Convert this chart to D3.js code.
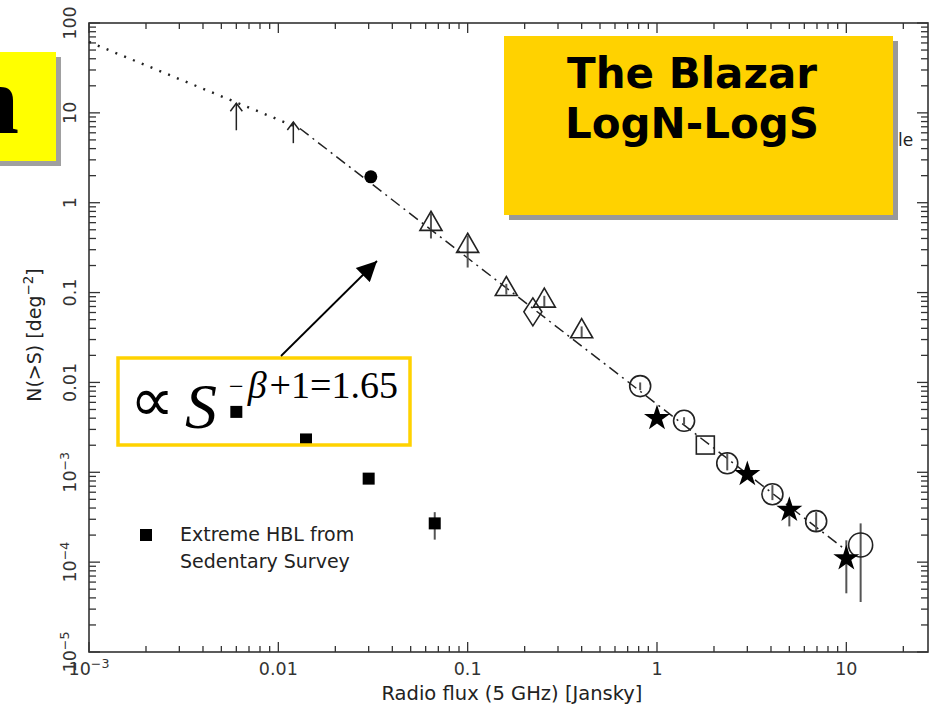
<!DOCTYPE html>
<html>
<head>
<meta charset="utf-8">
<script src="https://cdn.jsdelivr.net/npm/d3@7"></script>
<style>
  body { margin: 0; background: #fff; }
  svg { display: block; }
</style>
</head>
<body>
<div id="chart"></div>
<script>
// values: S = radio flux [Jy], N = N(>S) [deg^-2]
const dottedS = [0.001, 0.013];
const dottedN = [61.5, 6.7];
const modelS = [0.013, 10];
const modelN = [6.7, 1.35e-4];

const limitS = [0.006, 0.012];
const limitBase = [6.4, 4.6];
const limitTip = [12.8, 7.9];

const dotS = [0.0308];
const dotN = [1.94];

const triS  = [0.064, 0.10, 0.16, 0.254, 0.40];
const triN  = [0.58, 0.33, 0.109, 0.081, 0.037];
const triLo = [0.40, 0.19, 0.095, 0.070, 0.032];
const triHi = [0.76, 0.43, 0.125, 0.092, 0.042];

const diaS = [0.221];
const diaN = [0.061];

const circS  = [0.815, 1.39, 2.35, 4.07, 6.93, 11.9];
const circN  = [0.0091, 0.00374, 0.00126, 5.7e-4, 2.86e-4, 1.55e-4];
const circLo = [0.0082, 0.0034, 1.05e-3, 4.9e-4, 2.17e-4, 3.6e-5];
const circHi = [0.0100, 0.0041, 1.63e-3, 7.2e-4, 3.6e-4, 2.7e-4];

const boxS = [1.8];
const boxN = [0.00201];

const starS  = [1, 3, 5, 10];
const starN  = [0.0040, 9.5e-4, 3.8e-4, 1.1e-4];
const starLo = [0.0040, 9.5e-4, 2.5e-4, 4.5e-5];
const starHi = [0.0040, 9.5e-4, 4.3e-4, 1.75e-4];

const hblS  = [0.006, 0.014, 0.030, 0.067];
const hblN  = [0.0047, 0.00232, 8.5e-4, 2.7e-4];
const hblLo = [0.0047, 0.00232, 8.5e-4, 1.78e-4];
const hblHi = [0.0047, 0.00232, 8.5e-4, 3.6e-4];

const xTicks = [1e-3, 0.01, 0.1, 1, 10];
const xTickLabels = [["10", "\u22123"], ["0.01"], ["0.1"], ["1"], ["10"]];
const yTicks = [1e-5, 1e-4, 1e-3, 0.01, 0.1, 1, 10, 100];
const yTickLabels = [["10", "\u22125"], ["10", "\u22124"], ["10", "\u22123"], ["0.01"], ["0.1"], ["1"], ["10"], ["100"]];

const W = 934, H = 707;
const mLeft = 89, mRight = 928, mTop = 23, mBottom = 652;
const ink = "#222", axisCol = "#333";
const tickFont = "'DejaVu Sans', sans-serif";

const svg = d3.select("#chart").append("svg")
  .attr("width", W).attr("height", H)
  .attr("viewBox", [0, 0, W, H]);

const x = d3.scaleLog().domain([1e-3, 27]).range([mLeft, mRight]);
const y = d3.scaleLog().domain([1e-5, 100]).range([mBottom, mTop]);

const isMajor = v => Math.abs(Math.log10(v) - Math.round(Math.log10(v))) < 1e-6;

// frame
svg.append("rect")
  .attr("x", mLeft).attr("y", mTop)
  .attr("width", mRight - mLeft).attr("height", mBottom - mTop)
  .attr("fill", "none").attr("stroke", axisCol).attr("stroke-width", 1.6);

// ticks on all four sides, pointing inward
const ax = svg.append("g").attr("stroke", axisCol).attr("stroke-width", 1.3);
x.ticks().forEach(v => {
  const L = isMajor(v) ? 10 : 6;
  ax.append("line").attr("x1", x(v)).attr("x2", x(v)).attr("y1", mBottom).attr("y2", mBottom - L);
  ax.append("line").attr("x1", x(v)).attr("x2", x(v)).attr("y1", mTop).attr("y2", mTop + L);
});
y.ticks().forEach(v => {
  const L = isMajor(v) ? 11 : 7;
  ax.append("line").attr("y1", y(v)).attr("y2", y(v)).attr("x1", mLeft).attr("x2", mLeft + L);
  ax.append("line").attr("y1", y(v)).attr("y2", y(v)).attr("x1", mRight).attr("x2", mRight - L);
});

// tick labels
function label(sel, parts, size) {
  sel.append("tspan").text(parts[0]);
  if (parts[1]) sel.append("tspan").attr("dy", -7).attr("font-size", size * 0.72).text(parts[1]);
}
xTicks.forEach((v, i) => {
  const t = svg.append("text")
    .attr("x", x(v)).attr("y", 675)
    .attr("text-anchor", "middle")
    .attr("font-family", tickFont).attr("font-size", 17.5).attr("fill", "#333");
  label(t, xTickLabels[i], 17.5);
});
yTicks.forEach((v, i) => {
  const t = svg.append("text")
    .attr("transform", `translate(76,${y(v)}) rotate(-90)`)
    .attr("text-anchor", "middle")
    .attr("font-family", tickFont).attr("font-size", 17.5).attr("fill", "#333");
  label(t, yTickLabels[i], 17.5);
});

// axis titles
svg.append("text")
  .attr("x", 512).attr("y", 700)
  .attr("text-anchor", "middle")
  .attr("font-family", tickFont).attr("font-size", 19.5).attr("fill", "#222")
  .text("Radio flux (5 GHz) [Jansky]");
const yt = svg.append("text")
  .attr("transform", "translate(41,335) rotate(-90)")
  .attr("text-anchor", "middle")
  .attr("font-family", tickFont).attr("font-size", 19).attr("fill", "#222");
yt.append("tspan").text("N(>S) [deg");
yt.append("tspan").attr("dy", -8).attr("font-size", 13.5).text("\u22122");
yt.append("tspan").attr("dy", 8).text("]");

// model lines
const line = d3.line().x(d => x(d[0])).y(d => y(d[1]));
svg.append("path")
  .attr("d", line(d3.zip(dottedS, dottedN)))
  .attr("fill", "none").attr("stroke", ink).attr("stroke-width", 2.4)
  .attr("stroke-dasharray", "2 7.5");
svg.append("path")
  .attr("d", line(d3.zip(modelS, modelN)))
  .attr("fill", "none").attr("stroke", ink).attr("stroke-width", 1.5)
  .attr("stroke-dasharray", "11 5 2 5");

// error bars
function errBars(S, lo, hi) {
  S.forEach((s, i) => {
    if (lo[i] === hi[i]) return;
    svg.append("line")
      .attr("x1", x(s)).attr("x2", x(s))
      .attr("y1", y(lo[i])).attr("y2", y(hi[i]))
      .attr("stroke", "#555").attr("stroke-width", 2);
  });
}
errBars(triS, triLo, triHi);
errBars(circS, circLo, circHi);
errBars(starS, starLo, starHi);
errBars(hblS, hblLo, hblHi);

// lower-limit arrows
limitS.forEach((s, i) => {
  const g = svg.append("g").attr("stroke", ink).attr("stroke-width", 1.5).attr("fill", "none");
  const xs = x(s), y0 = y(limitBase[i]), y1 = y(limitTip[i]);
  g.append("line").attr("x1", xs).attr("x2", xs).attr("y1", y0).attr("y2", y1);
  g.append("path").attr("d", `M${xs - 6},${y1 + 8} L${xs},${y1} L${xs + 6},${y1 + 8}`);
});

// markers
const tri = d3.symbol().type(d3.symbolTriangle).size(210);
triS.forEach((s, i) => {
  svg.append("path").attr("d", tri())
    .attr("transform", `translate(${x(s)},${y(triN[i])})`)
    .attr("fill", "none").attr("stroke", ink).attr("stroke-width", 1.6);
});
diaS.forEach((s, i) => {
  const cx = x(s), cy = y(diaN[i]);
  svg.append("path")
    .attr("d", `M${cx},${cy - 14} L${cx + 9},${cy} L${cx},${cy + 14} L${cx - 9},${cy} Z`)
    .attr("fill", "none").attr("stroke", ink).attr("stroke-width", 1.6);
});
circS.forEach((s, i) => {
  svg.append("circle")
    .attr("cx", x(s)).attr("cy", y(circN[i]))
    .attr("r", i === circS.length - 1 ? 12 : 10.5)
    .attr("fill", "none").attr("stroke", ink).attr("stroke-width", 1.6);
});
boxS.forEach((s, i) => {
  svg.append("rect")
    .attr("x", x(s) - 9).attr("y", y(boxN[i]) - 9)
    .attr("width", 18).attr("height", 18)
    .attr("fill", "none").attr("stroke", ink).attr("stroke-width", 1.6);
});
const star = d3.symbol().type(d3.symbolStar).size(210);
starS.forEach((s, i) => {
  svg.append("path").attr("d", star())
    .attr("transform", `translate(${x(s)},${y(starN[i])})`)
    .attr("fill", "#000");
});
dotS.forEach((s, i) => {
  svg.append("circle").attr("cx", x(s)).attr("cy", y(dotN[i])).attr("r", 6.5).attr("fill", "#000");
});
hblS.forEach((s, i) => {
  svg.append("rect")
    .attr("x", x(s) - 6).attr("y", y(hblN[i]) - 6)
    .attr("width", 12).attr("height", 12).attr("fill", "#000");
});

// legend
svg.append("rect").attr("x", 140).attr("y", 529).attr("width", 12).attr("height", 12).attr("fill", "#000");
const lg = svg.append("text")
  .attr("font-family", tickFont).attr("font-size", 19).attr("fill", "#222");
lg.append("tspan").attr("x", 180).attr("y", 541).text("Extreme HBL from");
lg.append("tspan").attr("x", 180).attr("y", 568).text("Sedentary Survey");

// text partly hidden behind the title box
svg.append("text")
  .attr("x", 898).attr("y", 146)
  .attr("font-family", tickFont).attr("font-size", 17).attr("fill", "#222")
  .text("le");

// title box
svg.append("rect").attr("x", 509).attr("y", 41).attr("width", 389).attr("height", 179).attr("fill", "#999");
svg.append("rect").attr("x", 504).attr("y", 36).attr("width", 389).attr("height", 179).attr("fill", "#FFD200");
const tt = svg.append("text")
  .attr("text-anchor", "middle")
  .attr("font-family", "'DejaVu Sans', Verdana, sans-serif")
  .attr("font-weight", "bold").attr("font-size", 42).attr("fill", "#000");
tt.append("tspan").attr("x", 692).attr("y", 88).text("The Blazar");
tt.append("tspan").attr("x", 692).attr("y", 138).text("LogN-LogS");

// left cropped box
svg.append("rect").attr("x", -10).attr("y", 57).attr("width", 71).attr("height", 109).attr("fill", "#a0a0a0");
svg.append("rect").attr("x", -10).attr("y", 52).attr("width", 66).attr("height", 109).attr("fill", "#FFFF00");
svg.append("text")
  .attr("x", 19).attr("y", 133).attr("text-anchor", "end")
  .attr("font-family", "'Liberation Serif', 'Times New Roman', serif")
  .attr("font-weight", "bold").attr("font-size", 98).attr("fill", "#000")
  .text("n");

// slope annotation
svg.append("rect")
  .attr("x", 118).attr("y", 358).attr("width", 292).attr("height", 87)
  .attr("fill", "none").attr("stroke", "#FFD200").attr("stroke-width", 3.5);
svg.append("defs").append("marker")
  .attr("id", "head").attr("viewBox", "0 0 10 10")
  .attr("refX", 10).attr("refY", 5)
  .attr("markerWidth", 22).attr("markerHeight", 20)
  .attr("markerUnits", "userSpaceOnUse")
  .attr("orient", "auto")
  .append("path").attr("d", "M0,0 L10,5 L0,10 Z").attr("fill", "#000");
svg.append("line")
  .attr("x1", 281).attr("y1", 356).attr("x2", 377).attr("y2", 261)
  .attr("stroke", "#000").attr("stroke-width", 1.8)
  .attr("marker-end", "url(#head)");

const serif = "'Liberation Serif', 'Times New Roman', serif";
svg.append("text")
  .attr("x", 130).attr("y", 421)
  .attr("font-family", serif).attr("font-size", 62).attr("fill", "#000")
  .text("\u221D");
svg.append("text")
  .attr("x", 185).attr("y", 428)
  .attr("font-family", serif).attr("font-style", "italic").attr("font-size", 64).attr("fill", "#000")
  .text("S");
const sup = svg.append("text")
  .attr("x", 229).attr("y", 398)
  .attr("font-family", serif).attr("font-size", 38).attr("fill", "#000");
sup.append("tspan").attr("font-size", 26).attr("dy", -3).text("\u2212");
sup.append("tspan").attr("dy", 3).attr("dx", 4).attr("font-style", "italic").text("\u03B2");
sup.append("tspan").attr("dx", 3).text("+1=1.65");
</script>
</body>
</html>
